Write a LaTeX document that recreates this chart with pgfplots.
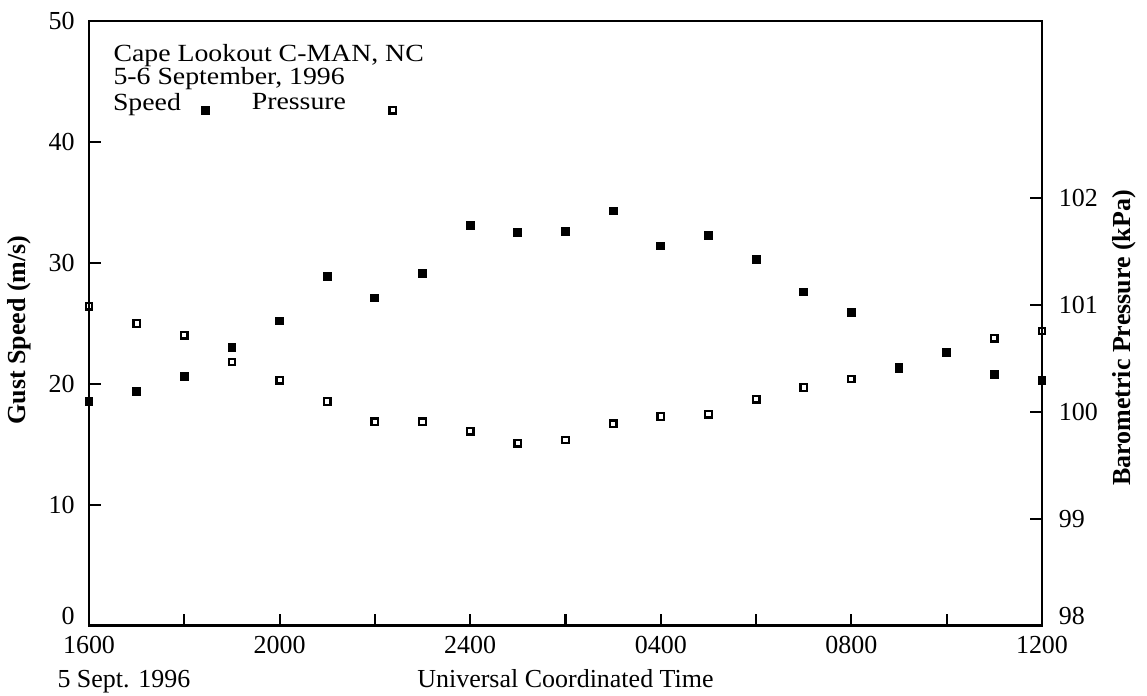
\documentclass[border=0pt]{standalone}
\usepackage{pgfplots}
\pgfplotsset{compat=1.18}
\usepackage{fontspec}
\setmainfont{Liberation Serif}

\pgfplotstableread{
h speed
0 18.55
1 19.4
2 20.6
3 23.0
4 25.2
5 28.9
6 27.1
7 29.1
8 33.1
9 32.5
10 32.6
11 34.3
12 31.4
13 32.3
14 30.3
15 27.6
16 25.9
17 21.4
18 22.6
19 20.8
20 20.3
}\speedtable

\pgfplotstableread{
h press
0 100.99
1 100.83
2 100.72
3 100.47
4 100.30
5 100.10
6 99.91
7 99.91
8 99.82
9 99.71
10 99.74
11 99.89
12 99.96
13 99.98
14 100.12
15 100.23
16 100.31
17 100.41
18 100.56
19 100.69
20 100.76
}\presstable

\newcommand\speedlegcode[1]{\path[draw=none,fill=none] (0pt,0pt) (16pt,0pt); \draw[#1] plot coordinates {(9.6pt,-2.6pt)};}
\newcommand\presslegcode[1]{\path[draw=none,fill=none] (0pt,0pt) (20pt,0pt); \draw[#1] plot coordinates {(18pt,-2.6pt)};}
\newcommand\ttxt[1]{\scalebox{1.07}[0.95]{#1}}
\pgfplotsset{
  speedleg/.style={legend image code/.code={\speedlegcode{##1}}},
  pressleg/.style={legend image code/.code={\presslegcode{##1}}},
  common/.style={
    scale only axis, width=366.9pt, height=232.9pt,
    xmin=0, xmax=20,
    tick align=inside,
    major tick length=4.6pt,
    axis line style={line width=1.1pt, black},
    major tick style={line width=0.8pt, black},
    tick label style={font=\fontsize{10}{12}\selectfont},
    /pgf/number format/assume math mode=true,
    label style={font=\fontsize{10}{12}\selectfont},
  }
}

\begin{document}
\begin{tikzpicture}
\begin{axis}[common, name=main, clip=false,
  ymin=0, ymax=50,
  xtick={0,2,...,20},
  xticklabels={1600,,2000,,2400,,0400,,0800,,1200},
  xticklabel style={yshift=-0.6pt},
  ytick={10,20,...,50},
  extra y ticks={0},
  extra y tick style={yticklabel style={yshift=3.8pt}},
  xtick pos=bottom, ytick pos=left,
  yticklabel style={xshift=-2pt},
  xlabel={Universal Coordinated Time},
  xlabel style={at={(axis description cs:0.5,-0.1025)}, anchor=base, inner sep=0pt},
  ylabel={\bfseries Gust Speed (m/s)},
  ylabel style={at={(axis description cs:-0.0598,0.489)}, anchor=south, inner sep=0pt},
  legend plot pos=right,
  legend columns=2,
  legend style={draw=none, fill=none, inner sep=0pt, outer sep=0pt,
    at={(axis description cs:0.0252,0.8810)}, anchor=north west,
    font=\fontsize{10}{9}\selectfont,
    nodes={inner sep=0pt}, column sep=0pt,
    /tikz/every even column/.append style={column sep=11.3pt}},
]
\addplot[only marks, mark=square*, mark size=1.5pt, black, speedleg]
  table[x=h, y=speed] {\speedtable};
\addlegendentry{\ttxt{Speed}}
\addlegendimage{only marks, mark=square, mark size=1.25pt, black, mark options={line width=0.9pt}, pressleg}
\addlegendentry{\ttxt{Pressure}}
\node[anchor=base west, inner sep=0pt, font=\fontsize{10}{9}\selectfont]
  at (axis description cs:0.0252,0.9327) {\ttxt{Cape Lookout C-MAN, NC}};
\node[anchor=base west, inner sep=0pt, font=\fontsize{10}{9}\selectfont]
  at (axis description cs:0.0252,0.8942) {\ttxt{5-6 September, 1996}};
\node[anchor=base west, inner sep=0pt, font=\fontsize{10}{12}\selectfont]
  at (axis description cs:-0.0336,-0.1025) {5 Sept. 1996};
\end{axis}
\begin{axis}[common,
  ymin=98, ymax=103.66,
  axis x line=none,
  axis y line*=right,
  tick align=inside,
  ytick={99,100,101,102},
  extra y ticks={98},
  extra y tick style={yticklabel style={yshift=3.8pt}},
  yticklabel style={xshift=3pt},
  ylabel={\bfseries Barometric Pressure (kPa)},
  ylabel style={at={(axis description cs:1.0735,0.476)}, anchor=north, inner sep=0pt},
]
\addplot[only marks, mark=square, mark size=1.25pt, black, mark options={line width=0.9pt}] table[x=h, y=press] {\presstable};
\end{axis}
\pgfresetboundingbox
\path[use as bounding box] ([xshift=-34.27pt, yshift=-26.95pt]main.south west) rectangle ([xshift=40.43pt, yshift=8.09pt]main.north east);
\end{tikzpicture}
\end{document}
